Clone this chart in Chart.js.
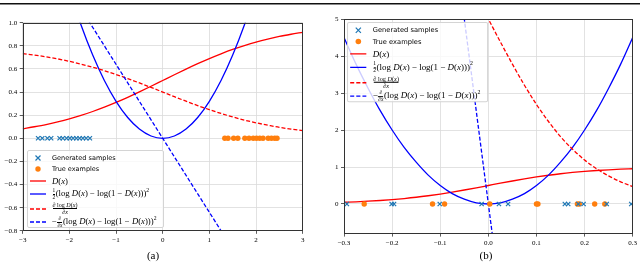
<!DOCTYPE html>
<html>
<head>
<meta charset="utf-8">
<script src="https://cdn.jsdelivr.net/npm/chart.js@4.4.0/dist/chart.umd.min.js"></script>
<style>
  html, body { margin: 0; padding: 0; background: #fff; }
  body { width: 640px; height: 266px; position: relative; overflow: hidden; }
  .rule { position: absolute; left: 0; top: 2.5px; width: 640px; height: 1.4px; background: #111; }
  .rule2 { position: absolute; left: 0; top: 4.3px; width: 640px; height: 0.6px; background: #888; }
  canvas { position: absolute; top: 0; }
  .cap { position: absolute; top: 249px; width: 40px; text-align: center; font: 11px 'Liberation Serif', serif; }
  .legend { position: absolute; background: rgba(255,255,255,0.8); border: 1px solid #d4d4d4; border-radius: 2px; box-sizing: border-box; transform-origin: 0 0; }
  .row { position: absolute; left: 2px; height: 14px; display: flex; align-items: center; white-space: nowrap; }
  .row svg { width: 16px; height: 8px; margin-right: 6px; flex: none; }
  .t { font: 6.5px 'DejaVu Sans', sans-serif; }
  .m { font: 8.7px 'Liberation Serif', serif; }
  .fr { display: inline-flex; flex-direction: column; vertical-align: middle; font-size: 0.62em; line-height: 1.05; text-align: center; margin: 0 0.5px; }
  .fr.big { font-size: 0.7em; }
  .fr span:first-child { border-bottom: 0.6px solid #000; }
  sup { font-size: 0.65em; line-height: 0; position: relative; top: -0.1em; }
</style>
</head>
<body>
<div class="rule"></div><div class="rule2"></div>
<canvas id="chartA" width="320" height="266" style="left:0"></canvas>
<canvas id="chartB" width="320" height="266" style="left:320px"></canvas>
<div class="cap" style="left:133px">(a)</div>
<div class="cap" style="left:466px">(b)</div>
<div id="legA" class="legend"></div>
<div id="legB" class="legend"></div>

<script>
// 刻度
const xTicksA = [-3, -2, -1, 0, 1, 2, 3];
const yTicksA = [-0.8, -0.6, -0.4, -0.2, 0, 0.2, 0.4, 0.6, 0.8, 1.0];
const xTicksB = [-0.3, -0.2, -0.1, 0, 0.1, 0.2, 0.3];
const yTicksB = [0, 1, 2, 3, 4, 5];

// (a) 样本
const genA = [-2.67, -2.58, -2.47, -2.39, -2.21, -2.14, -2.06, -1.99, -1.92, -1.85, -1.78, -1.71, -1.64, -1.56];
const trueA = [1.33, 1.40, 1.52, 1.61, 1.76, 1.85, 1.94, 2.01, 2.08, 2.15, 2.26, 2.33, 2.40, 2.45];

// (a) 曲线
const curveXA = [-3, -2.75, -2.5, -2.25, -2, -1.75, -1.5, -1.25, -1, -0.75, -0.5, -0.25, 0,
                 0.25, 0.5, 0.75, 1, 1.25, 1.5, 1.75, 2, 2.25, 2.5, 2.75, 3];
const dA = [0.083, 0.100, 0.119, 0.142, 0.168, 0.198, 0.232, 0.269, 0.310, 0.354, 0.401, 0.450, 0.500,
            0.550, 0.599, 0.646, 0.690, 0.731, 0.769, 0.802, 0.832, 0.858, 0.881, 0.900, 0.917];
const gradA = [0.733, 0.720, 0.705, 0.687, 0.666, 0.642, 0.615, 0.585, 0.552, 0.517, 0.479, 0.440, 0.400,
               0.360, 0.321, 0.283, 0.248, 0.215, 0.185, 0.158, 0.134, 0.114, 0.095, 0.080, 0.067];
const lossXA = [-2, -1.75, -1.5, -1.25, -1, -0.75, -0.5, -0.25, 0, 0.25, 0.5, 0.75, 1, 1.25, 1.5, 1.75, 2];
const lossA = [1.28, 0.98, 0.72, 0.50, 0.32, 0.18, 0.08, 0.02, 0, 0.02, 0.08, 0.18, 0.32, 0.50, 0.72, 0.98, 1.28];
const slopeXA = [-2, 1.5];
const slopeA = [1.28, -0.96];

// (b) 样本
const genB = [-0.294, -0.201, -0.196, -0.101, -0.014, 0.022, 0.041, 0.159, 0.166, 0.187, 0.198, 0.246, 0.297];
const trueB = [-0.258, -0.116, -0.091, 0.003, 0.100, 0.103, 0.185, 0.189, 0.221, 0.242];

// (b) 曲线
const curveXB = [-0.3, -0.275, -0.25, -0.225, -0.2, -0.175, -0.15, -0.125, -0.1, -0.075, -0.05, -0.025, 0,
                 0.025, 0.05, 0.075, 0.1, 0.125, 0.15, 0.175, 0.2, 0.225, 0.25, 0.275, 0.3];
const dB = [0.047, 0.060, 0.076, 0.095, 0.119, 0.148, 0.182, 0.223, 0.269, 0.321, 0.378, 0.438, 0.500,
            0.562, 0.622, 0.679, 0.731, 0.777, 0.818, 0.852, 0.881, 0.905, 0.924, 0.940, 0.953];
const lossB = [4.50, 3.78, 3.13, 2.53, 2.00, 1.53, 1.13, 0.78, 0.50, 0.28, 0.13, 0.03, 0,
               0.03, 0.13, 0.28, 0.50, 0.78, 1.13, 1.53, 2.00, 2.53, 3.13, 3.78, 4.50];
const gradXB = [-0.05, -0.025, 0, 0.025, 0.05, 0.075, 0.1, 0.125, 0.15, 0.175, 0.2, 0.225, 0.25, 0.275, 0.3];
const gradB = [6.23, 5.62, 5.00, 4.38, 3.78, 3.21, 2.69, 2.23, 1.82, 1.48, 1.19, 0.95, 0.76, 0.60, 0.47];
const slopeXB = [-0.06, 0.01];
const slopeB = [6, -1];

const RED = '#ff0000';
const BLUE = '#0000ff';
const C0 = '#1f77b4';
const C1 = '#ff7f0e';

function pts(xs, ys) {
  return xs.map((x, i) => ({ x: x, y: ys[i] }));
}
function onAxis(xs) {
  return xs.map(x => ({ x: x, y: 0 }));
}
function minus(s) {
  return s.replace('-', '\u2212');
}

// 外框
const framePlugin = {
  id: 'frame',
  afterDatasetsDraw(chart) {
    const a = chart.chartArea;
    const ctx = chart.ctx;
    ctx.save();
    ctx.strokeStyle = '#333';
    ctx.lineWidth = 1;
    ctx.strokeRect(Math.round(a.left) + 0.5, Math.round(a.top) + 0.5,
                   Math.round(a.right - a.left) - 1, Math.round(a.bottom - a.top) - 1);
    ctx.restore();
  }
};

function lineSet(data, color, dashed) {
  return {
    data: data,
    showLine: true,
    pointRadius: 0,
    borderColor: color,
    borderWidth: 1.3,
    borderDash: dashed ? [4, 2] : [],
    cubicInterpolationMode: 'monotone',
    fill: false
  };
}

function makeChart(id, o) {
  const tickFont = { family: 'Liberation Serif', size: 7 };
  const grid = { color: '#dadada', lineWidth: 0.8, tickColor: '#333', tickLength: 3 };
  return new Chart(document.getElementById(id), {
    type: 'scatter',
    data: {
      datasets: [
        { data: onAxis(o.gen), pointStyle: 'crossRot', pointRadius: 3, borderColor: C0, backgroundColor: C0, borderWidth: 1.2 },
        { data: onAxis(o.tru), pointStyle: 'circle', pointRadius: 2.7, borderColor: C1, backgroundColor: C1, borderWidth: 0 },
        lineSet(o.slope, BLUE, true),
        lineSet(o.grad, RED, true),
        lineSet(o.loss, BLUE, false),
        lineSet(o.d, RED, false)
      ]
    },
    options: {
      responsive: false,
      animation: false,
      devicePixelRatio: 1,
      events: [],
      layout: { padding: { top: o.top, right: o.right, left: 0, bottom: 0 } },
      plugins: { legend: { display: false }, tooltip: { enabled: false } },
      scales: {
        x: {
          type: 'linear', min: o.xMin, max: o.xMax,
          afterBuildTicks: s => { s.ticks = o.xTicks.map(v => ({ value: v })); },
          afterFit: s => { s.height = o.xH; },
          grid: grid,
          border: { display: false },
          ticks: { font: tickFont, color: '#000', padding: 2, maxRotation: 0, autoSkip: false, callback: o.xFmt }
        },
        y: {
          type: 'linear', min: o.yMin, max: o.yMax,
          afterBuildTicks: s => { s.ticks = o.yTicks.map(v => ({ value: v })); },
          afterFit: s => { s.width = o.yW; },
          grid: grid,
          border: { display: false },
          ticks: { font: tickFont, color: '#000', padding: 2.5, autoSkip: false, callback: o.yFmt }
        }
      }
    },
    plugins: [framePlugin]
  });
}

makeChart('chartA', {
  gen: genA, tru: trueA,
  d: pts(curveXA, dA), grad: pts(curveXA, gradA),
  loss: pts(lossXA, lossA), slope: pts(slopeXA, slopeA),
  xMin: -3, xMax: 3, yMin: -0.8, yMax: 1.0,
  xTicks: xTicksA, yTicks: yTicksA,
  xFmt: v => minus(String(v)), yFmt: v => minus(v.toFixed(1)),
  top: 22.7, right: 17.3, yW: 22.7, xH: 35.2
});

makeChart('chartB', {
  gen: genB, tru: trueB,
  d: pts(curveXB, dB), grad: pts(gradXB, gradB),
  loss: pts(curveXB, lossB), slope: pts(slopeXB, slopeB),
  xMin: -0.3, xMax: 0.3, yMin: -0.8, yMax: 5,
  xTicks: xTicksB, yTicks: yTicksB,
  xFmt: v => minus(v.toFixed(1)), yFmt: v => String(v),
  top: 19, right: 7.3, yW: 24, xH: 32.4
});

// 图例
const handles = [
  `<svg viewBox="0 0 16 8"><path d="M5.5 1.5L10.5 6.5M10.5 1.5L5.5 6.5" stroke="${C0}" stroke-width="1.2"/></svg>`,
  `<svg viewBox="0 0 16 8"><circle cx="8" cy="4" r="2.7" fill="${C1}"/></svg>`,
  `<svg viewBox="0 0 16 8"><line x1="0" y1="4" x2="16" y2="4" stroke="${RED}" stroke-width="1.3"/></svg>`,
  `<svg viewBox="0 0 16 8"><line x1="0" y1="4" x2="16" y2="4" stroke="${BLUE}" stroke-width="1.3"/></svg>`,
  `<svg viewBox="0 0 16 8"><line x1="0" y1="4" x2="16" y2="4" stroke="${RED}" stroke-width="1.3" stroke-dasharray="4 2"/></svg>`,
  `<svg viewBox="0 0 16 8"><line x1="0" y1="4" x2="16" y2="4" stroke="${BLUE}" stroke-width="1.3" stroke-dasharray="4 2"/></svg>`
];
const DX = '<i>D</i>(<i>x</i>)';
const LOGS = `(log ${DX} \u2212 log(1 \u2212 ${DX}))<sup>2</sup>`;
const labels = [
  '<span class="t">Generated samples</span>',
  '<span class="t">True examples</span>',
  `<span class="m">${DX}</span>`,
  `<span class="m"><span class="fr"><span>1</span><span>2</span></span>${LOGS}</span>`,
  `<span class="m"><span class="fr big"><span>\u2202 log ${DX}</span><span>\u2202<i>x</i></span></span></span>`,
  `<span class="m">\u2212<span class="fr"><span>\u2202</span><span>\u2202<i>x</i></span></span>${LOGS}</span>`
];
const rowY = [7, 18, 29.5, 43, 57.5, 71];

function makeLegend(id, left, top, w, h, scale) {
  const el = document.getElementById(id);
  el.style.left = left + 'px';
  el.style.top = top + 'px';
  el.style.width = w + 'px';
  el.style.height = h + 'px';
  el.style.transform = `scale(${scale})`;
  el.innerHTML = labels.map((lab, i) =>
    `<div class="row" style="top:${rowY[i] - 7}px">${handles[i]}${lab}</div>`).join('');
}

makeLegend('legA', 27, 150, 137, 78, 1);
makeLegend('legB', 347.3, 21.7, 137, 78, 1.03);
</script>
</body>
</html>
